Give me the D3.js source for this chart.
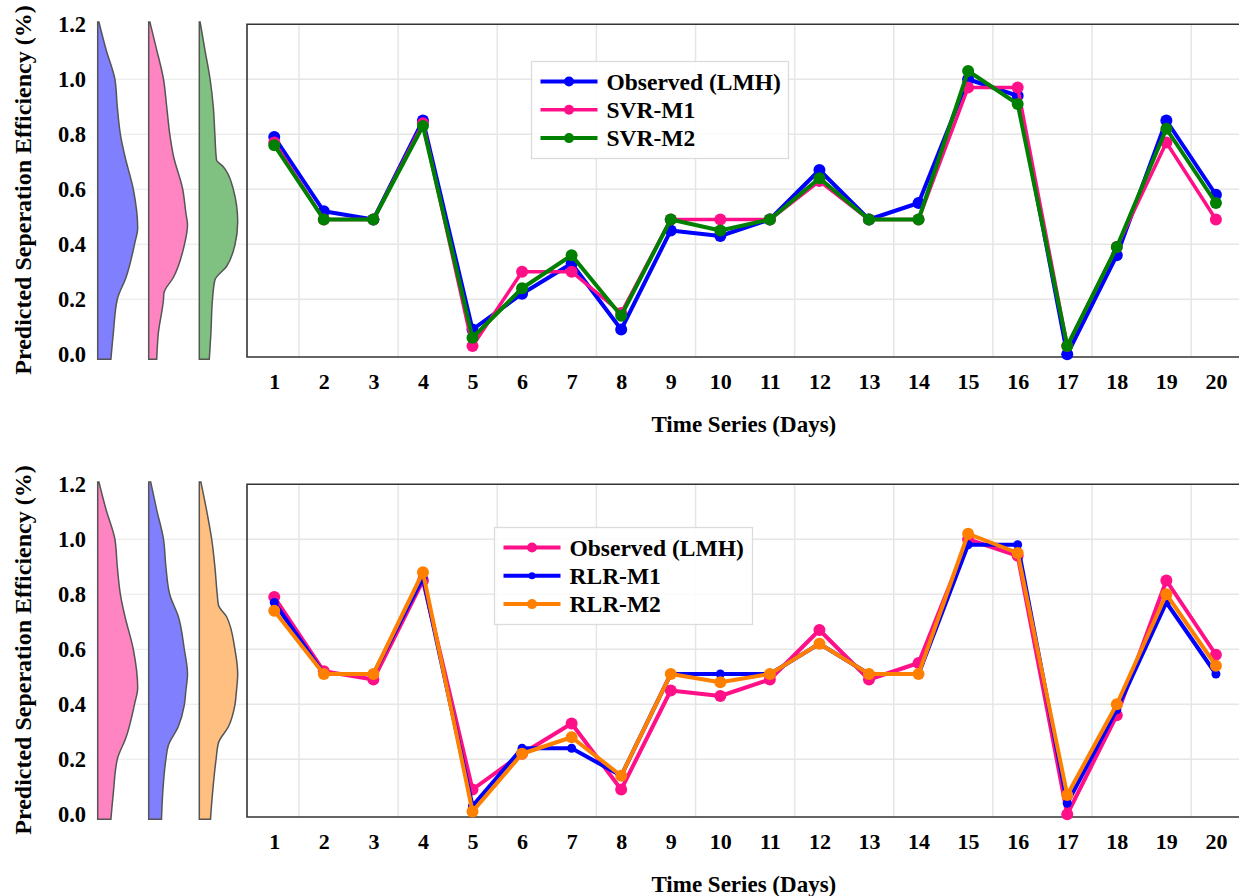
<!DOCTYPE html>
<html><head><meta charset="utf-8">
<script src="https://cdn.jsdelivr.net/npm/d3@7"></script>
<style>
body{margin:0;background:#fff}
svg{display:block}
text{font-family:"Liberation Serif","Times New Roman",serif;font-weight:bold;fill:#000}
</style>
</head><body><svg id="c" width="1239" height="896"></svg>
<script>
// ---------- data ----------
const days = [1,2,3,4,5,6,7,8,9,10,11,12,13,14,15,16,17,18,19,20];
const observed = [0.79,0.52,0.49,0.85,0.09,0.22,0.33,0.09,0.45,0.43,0.49,0.67,0.49,0.55,1.00,0.94,0.00,0.36,0.85,0.58];
const svrM1   = [0.77,0.49,0.49,0.84,0.03,0.30,0.30,0.15,0.49,0.49,0.49,0.63,0.49,0.49,0.97,0.97,0.03,0.39,0.77,0.49];
const svrM2   = [0.76,0.49,0.49,0.83,0.06,0.24,0.36,0.14,0.49,0.45,0.49,0.64,0.49,0.49,1.03,0.91,0.03,0.39,0.82,0.55];
const rlrM1   = [0.77,0.51,0.51,0.86,0.03,0.24,0.24,0.14,0.51,0.51,0.51,0.62,0.51,0.51,0.98,0.98,0.04,0.38,0.77,0.51];
const rlrM2   = [0.74,0.51,0.51,0.88,0.01,0.22,0.28,0.14,0.51,0.48,0.51,0.62,0.51,0.51,1.02,0.95,0.07,0.40,0.80,0.54];
const yTicks = [0.0,0.2,0.4,0.6,0.8,1.0,1.2];
const seriesLabelsTop = ["Observed (LMH)","SVR-M1","SVR-M2"];
const seriesLabelsBottom = ["Observed (LMH)","RLR-M1","RLR-M2"];
const xLabel = "Time Series (Days)";
const yLabel = "Predicted Seperation Efficiency (%)";

// density profiles: [value, relative density]
const densObserved = [[1.208,0.03],[1.107,0.21],[1.0,0.43],[0.9,0.49],[0.797,0.57],[0.72,0.68],[0.6,0.89],[0.46,1.0],[0.4,0.92],[0.28,0.71],[0.2,0.49],[0.076,0.39],[-0.018,0.33]];
const densSvrM1 = [[1.208,0.03],[1.107,0.2],[1.0,0.37],[0.9,0.45],[0.797,0.53],[0.72,0.62],[0.6,0.85],[0.513,0.93],[0.47,0.97],[0.397,0.89],[0.28,0.62],[0.222,0.38],[0.2,0.37],[0.076,0.24],[-0.018,0.2]];
const densSvrM2 = [[1.208,0.02],[1.107,0.14],[1.0,0.27],[0.9,0.35],[0.797,0.39],[0.707,0.43],[0.682,0.6],[0.6,0.85],[0.482,0.96],[0.397,0.89],[0.319,0.68],[0.27,0.39],[0.2,0.33],[0.076,0.29],[-0.018,0.25]];
const densRlrM1 = [[1.208,0.05],[1.107,0.2],[1.0,0.37],[0.9,0.43],[0.797,0.53],[0.719,0.74],[0.6,0.89],[0.51,0.97],[0.45,0.93],[0.397,0.89],[0.319,0.74],[0.25,0.49],[0.2,0.43],[0.076,0.35],[-0.018,0.32]];
const densRlrM2 = [[1.208,0.04],[1.107,0.18],[1.0,0.31],[0.9,0.39],[0.797,0.45],[0.76,0.48],[0.719,0.68],[0.6,0.89],[0.51,0.96],[0.45,0.93],[0.397,0.89],[0.319,0.73],[0.26,0.48],[0.2,0.42],[0.076,0.33],[-0.018,0.28]];

// ---------- styles ----------
const C = {blue:"#0000ff", pink:"#ff1088", green:"#008000", orange:"#ff8000"};
const FILL = {blue:"#8080ff", pink:"#ff85c2", green:"#80c080", orange:"#ffbf80"};

const panels = [
  {offset:0, legend:{x:531.5,y:61.5,w:257,h:97},
   series:[
     {name:seriesLabelsTop[0], values:observed, color:C.blue, r:6, lw:4},
     {name:seriesLabelsTop[1], values:svrM1, color:C.pink, r:6, lw:3.5},
     {name:seriesLabelsTop[2], values:svrM2, color:C.green, r:6, lw:4}],
   dens:[{d:densObserved,fill:FILL.blue},{d:densSvrM1,fill:FILL.pink},{d:densSvrM2,fill:FILL.green}]},
  {offset:460, legend:{x:494.5,y:67.5,w:258,h:97},
   series:[
     {name:seriesLabelsBottom[0], values:observed, color:C.pink, r:6, lw:4},
     {name:seriesLabelsBottom[1], values:rlrM1, color:C.blue, r:4.5, lw:4},
     {name:seriesLabelsBottom[2], values:rlrM2, color:C.orange, r:6, lw:4}],
   dens:[{d:densObserved,fill:FILL.pink},{d:densRlrM1,fill:FILL.blue},{d:densRlrM2,fill:FILL.orange}]}
];

const svg = d3.select("#c");
const FONT = '"Liberation Serif","Times New Roman",serif';

const pLeft = 247, pRight = 1240.7, pTop = 24.25, pBottom = 357;
const violinBase = [97.7, 148.7, 199.3];
const violinWidth = 40;

panels.forEach(p => {
  const g = svg.append("g").attr("transform", `translate(0,${p.offset})`);
  const x = d3.scaleLinear().domain([0.45, 20.5]).range([pLeft, pRight]);
  const y = d3.scaleLinear().domain([-0.01, 1.2]).range([pBottom, pTop]);
  const w = d3.scaleLinear().domain([0, 1]).range([0, violinWidth]);

  // grid in density area
  g.append("g").selectAll("line").data(yTicks.filter(t => t > 0 && t < 1.2)).join("line")
    .attr("x1", violinBase[0]).attr("x2", pLeft)
    .attr("y1", d => y(d)).attr("y2", d => y(d))
    .attr("stroke", "#e8e8e8").attr("stroke-width", 1.2);

  // main grid
  g.append("g").selectAll("line").data(yTicks.filter(t => t > 0 && t < 1.2)).join("line")
    .attr("x1", pLeft).attr("x2", pRight)
    .attr("y1", d => y(d)).attr("y2", d => y(d))
    .attr("stroke", "#e6e6e6").attr("stroke-width", 1.5);
  g.append("g").selectAll("line").data(d3.range(1.5, 20.5, 2)).join("line")
    .attr("y1", pTop).attr("y2", pBottom)
    .attr("x1", d => x(d)).attr("x2", d => x(d))
    .attr("stroke", "#e6e6e6").attr("stroke-width", 1.5);

  // frame
  g.append("path")
    .attr("d", `M${pRight},${pTop}H${pLeft}V${pBottom}H${pRight}`)
    .attr("fill", "none").attr("stroke", "#333").attr("stroke-width", 1.6);

  // violins (half densities)
  p.dens.forEach((dv, i) => {
    const base = violinBase[i];
    const area = d3.area()
      .y(d => y(d[0]))
      .x0(base)
      .x1(d => base + w(d[1]))
      .curve(d3.curveMonotoneY);
    const data = dv.d.slice().sort((a, b) => a[0] - b[0]);
    g.append("path").datum(data)
      .attr("d", area)
      .attr("fill", dv.fill)
      .attr("stroke", "#555").attr("stroke-width", 1.5);
  });

  // y axis labels
  const ya = g.append("g").attr("transform", "translate(86,0)")
    .call(d3.axisLeft(y).tickValues(yTicks).tickFormat(d3.format(".1f")).tickSize(0).tickPadding(0));
  ya.select(".domain").remove();
  ya.selectAll("text").attr("font-family", FONT).attr("font-weight", "bold").attr("font-size", 22.5);

  // x axis labels
  const xa = g.append("g").attr("transform", `translate(0,${pBottom})`)
    .call(d3.axisBottom(x).tickValues(days).tickFormat(d3.format("d")).tickSize(0).tickPadding(16));
  xa.select(".domain").remove();
  xa.selectAll("text").attr("font-family", FONT).attr("font-weight", "bold").attr("font-size", 22);

  // axis titles
  g.append("text")
    .attr("x", (pLeft + pRight) / 2).attr("y", 432)
    .attr("text-anchor", "middle").attr("font-size", 23)
    .text(xLabel);
  g.append("text")
    .attr("transform", `translate(31,190) rotate(-90)`)
    .attr("text-anchor", "middle").attr("font-size", 24)
    .text(yLabel);

  // series
  const line = d3.line().x((d, i) => x(days[i])).y(d => y(d));
  p.series.forEach(s => {
    g.append("path").datum(s.values)
      .attr("d", line).attr("fill", "none")
      .attr("stroke", s.color).attr("stroke-width", s.lw)
      .attr("stroke-linejoin", "round");
    g.append("g").selectAll("circle").data(s.values).join("circle")
      .attr("cx", (d, i) => x(days[i])).attr("cy", d => y(d))
      .attr("r", s.r).attr("fill", s.color);
  });

  // legend
  const L = p.legend;
  const lg = g.append("g").attr("transform", `translate(${L.x},${L.y})`);
  lg.append("rect").attr("width", L.w).attr("height", L.h)
    .attr("fill", "#fff").attr("fill-opacity", 0.85)
    .attr("stroke", "#dcdcdc").attr("stroke-width", 1.3);
  p.series.forEach((s, i) => {
    const yy = 20 + i * 28.3;
    lg.append("line").attr("x1", 9).attr("x2", 66).attr("y1", yy).attr("y2", yy)
      .attr("stroke", s.color).attr("stroke-width", s.lw);
    lg.append("circle").attr("cx", 37.5).attr("cy", yy).attr("r", s.r - 1).attr("fill", s.color);
    lg.append("text").attr("x", 75).attr("y", yy).attr("dy", "0.35em")
      .attr("font-size", 23.5).text(s.name);
  });
});
</script></body></html>
